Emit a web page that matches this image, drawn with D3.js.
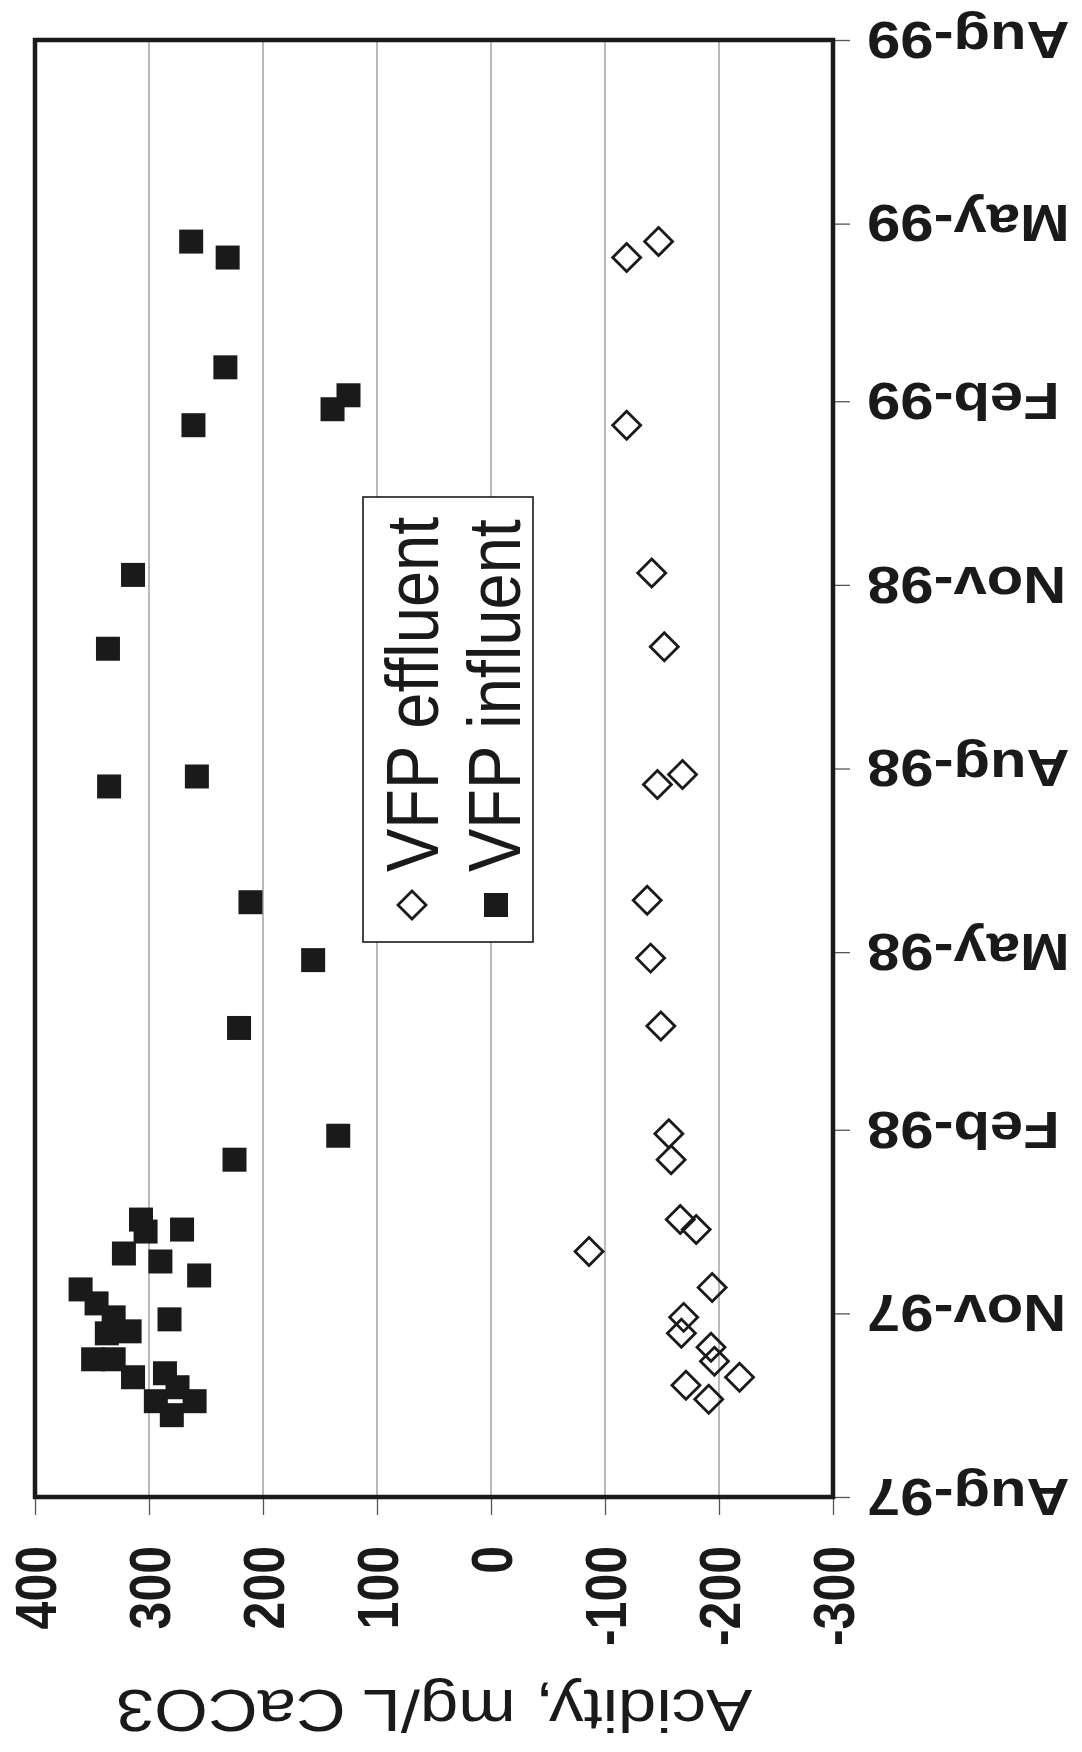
<!DOCTYPE html>
<html><head><meta charset="utf-8">
<script src="https://cdn.jsdelivr.net/npm/d3@7"></script>
<style>
body{margin:0;background:#fff}
svg{display:block}
text{font-family:"Liberation Sans",Arial,sans-serif;fill:#1a1a1a}
</style>
</head><body>
<svg id="chart" width="1082" height="1752"></svg>
<script>
// ---- data ----
const influentDates = ["1997-09-11","1997-09-18","1997-09-18","1997-09-25","1997-09-30","1997-10-02","1997-10-09","1997-10-09","1997-10-22","1997-10-23","1997-10-29","1997-10-30","1997-11-06","1997-11-13","1997-11-20","1997-11-27","1997-12-01","1997-12-12","1997-12-13","1997-12-18","1998-01-17","1998-01-29","1998-03-24","1998-04-27","1998-05-26","1998-07-23","1998-07-28","1998-09-30","1998-11-06","1999-01-20","1999-01-28","1999-02-04","1999-02-18","1999-04-14","1999-04-22"];
const influentValues = [280,294,260,275,314,286,331,349,337,317,282,331,346,360,256,290,322,303,271,307,225,134,221,156,211,335,258,336,314,261,139,125,233,231,263];
const effluentDates = ["1997-09-19","1997-09-26","1997-09-30","1997-10-08","1997-10-15","1997-10-22","1997-10-30","1997-11-14","1997-12-02","1997-12-13","1997-12-18","1998-01-17","1998-01-30","1998-03-25","1998-04-28","1998-05-27","1998-07-24","1998-07-29","1998-10-01","1998-11-07","1999-01-20","1999-04-14","1999-04-22"];
const effluentValues = [-191,-171,-218,-196,-193,-167,-169,-194,-86,-180,-166,-158,-156,-149,-140,-137,-146,-168,-152,-141,-119,-119,-147];
const valueTicks = [400,300,200,100,0,-100,-200,-300];
const dateTicks = ["1997-08-01","1997-11-01","1998-02-01","1998-05-01","1998-08-01","1998-11-01","1999-02-01","1999-05-01","1999-08-01"];
const dateTickLabels = ["Aug-97","Nov-97","Feb-98","May-98","Aug-98","Nov-98","Feb-99","May-99","Aug-99"];
const seriesNames = ["VFP effluent","VFP influent"];
const axisTitle = "Acidity, mg/L CaCO3";

// ---- layout ----
const parse = d3.timeParse("%Y-%m-%d");
const svg = d3.select("#chart");
const SX = 1.15; // horizontal stretch of the scanned page
const ink = "#1a1a1a";

const x = d3.scaleLinear().domain([400,-300]).range([35,833]);
const y = d3.scaleTime().domain([parse(dateTicks[0]), parse(dateTicks[dateTicks.length-1])]).range([1497,40]);

const [x0,x1] = x.range();
const [yb,yt] = y.range();

// gridlines
svg.append("g").selectAll("line")
  .data(valueTicks.slice(1,-1)).join("line")
  .attr("x1",d=>x(d)).attr("x2",d=>x(d))
  .attr("y1",yt).attr("y2",yb)
  .attr("stroke","#8a8a8a").attr("stroke-width",1.2);

// value axis (bottom of page)
const ax = svg.append("g").attr("transform",`translate(0,${yb})`)
  .call(d3.axisBottom(x).tickValues(valueTicks).tickSize(18).tickFormat(d=>String(d)));
ax.select(".domain").remove();
ax.selectAll(".tick line").attr("stroke","#555").attr("stroke-width",1.3);
ax.selectAll(".tick text")
  .attr("y",null).attr("x",null)
  .attr("transform",`translate(0,49) scale(${SX},1) rotate(-90)`)
  .attr("text-anchor","end").attr("dy","0.36em")
  .attr("font-size",50).attr("font-weight","bold")
  .attr("fill",ink).style("font-family",'"Liberation Sans",Arial,sans-serif');

// date axis (right of page)
const ay = svg.append("g").attr("transform",`translate(${x1},0)`)
  .call(d3.axisRight(y).tickValues(dateTicks.map(parse)).tickSize(17).tickFormat((d,i)=>dateTickLabels[i]));
ay.select(".domain").remove();
ay.selectAll(".tick line").attr("stroke","#555").attr("stroke-width",1.3);
ay.selectAll(".tick text")
  .attr("x",null).attr("y",null)
  .attr("transform",`translate(34,0) scale(${SX},1) rotate(180)`)
  .attr("text-anchor","end").attr("dy","0.36em")
  .attr("font-size",52).attr("font-weight","bold")
  .attr("fill",ink).style("font-family",'"Liberation Sans",Arial,sans-serif');

// axis title
svg.append("text")
  .attr("transform",`translate(${(x0+x1)/2},1712) scale(${SX},1) rotate(180)`)
  .attr("text-anchor","middle").attr("dy","0.36em")
  .attr("font-size",60)
  .text(axisTitle);

// points
const influent = influentDates.map((d,i)=>({date:parse(d), v:influentValues[i]}));
const effluent = effluentDates.map((d,i)=>({date:parse(d), v:effluentValues[i]}));
const sq = d3.symbol(d3.symbolSquare, 576);
const dia = d3.symbol(d3.symbolSquare, 392);

svg.append("g").selectAll("path").data(effluent).join("path")
  .attr("d",dia)
  .attr("transform",d=>`translate(${x(d.v)},${y(d.date)}) rotate(45)`)
  .attr("fill","none").attr("stroke",ink).attr("stroke-width",2.8);

svg.append("g").selectAll("path").data(influent).join("path")
  .attr("d",sq)
  .attr("transform",d=>`translate(${x(d.v)},${y(d.date)})`)
  .attr("fill",ink);

// frame
svg.append("rect")
  .attr("x",x0).attr("y",yt).attr("width",x1-x0).attr("height",yb-yt)
  .attr("fill","none").attr("stroke",ink).attr("stroke-width",4.5);

// legend
const lg = svg.append("g");
lg.append("rect").attr("x",363).attr("y",497).attr("width",170).attr("height",445)
  .attr("fill","#fff").attr("stroke",ink).attr("stroke-width",1.6);
const legendItems = [
  {name:seriesNames[0], cx:412, base:438, sym:dia, rot:45, fill:"none"},
  {name:seriesNames[1], cx:496, base:520, sym:sq, rot:0, fill:ink}
];
legendItems.forEach(it=>{
  lg.append("path").attr("d",it.sym)
    .attr("transform",`translate(${it.cx},905) rotate(${it.rot})`)
    .attr("fill",it.fill).attr("stroke",it.fill==="none"?ink:null).attr("stroke-width",2.8);
  lg.append("text")
    .attr("transform",`translate(${it.base},872) scale(${SX},1) rotate(-90)`)
    .attr("text-anchor","start").attr("font-size",65)
    .text(it.name);
});
</script>
</body></html>
